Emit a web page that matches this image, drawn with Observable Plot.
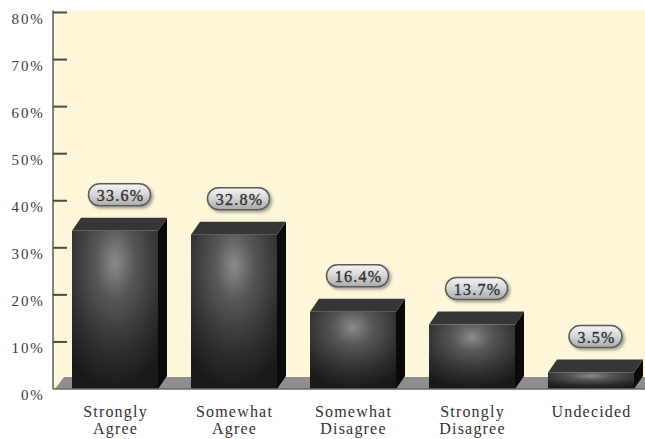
<!DOCTYPE html>
<html>
<head>
<meta charset="utf-8">
<script src="https://cdn.jsdelivr.net/npm/d3@7"></script>
<script src="https://cdn.jsdelivr.net/npm/@observablehq/plot@0.6"></script>
<style>
  html, body { margin: 0; padding: 0; background: #ffffff; }
  #chart { width: 645px; height: 439px; }
  svg { display: block; }
  svg text { letter-spacing: 1.2px; }
  svg g[aria-label="y-axis tick label"] text { letter-spacing: 1.8px; }
</style>
</head>
<body>
<div id="chart"></div>
<script>
const categories = ["Strongly Agree", "Somewhat Agree", "Somewhat Disagree", "Strongly Disagree", "Undecided"];
const values = [33.6, 32.8, 16.4, 13.7, 3.5];
const valueLabels = ["33.6%", "32.8%", "16.4%", "13.7%", "3.5%"];
const yTicks = [0, 10, 20, 30, 40, 50, 60, 70, 80];

const data = categories.map((c, i) => ({category: c, value: values[i], label: valueLabels[i]}));

const DX = 9, DY = 13;       // 3-D depth offsets (px)
const FLOOR = 12;            // floor depth (px)
const serif = "'Liberation Serif', 'DejaVu Serif', serif";

function bandwidthOf(x) {
  if (typeof x.bandwidth === "function") return x.bandwidth();
  if (typeof x.bandwidth === "number") return x.bandwidth;
  return 86;
}

function defs() {
  const svg = d3.create("svg:g");
  const d = svg.append("defs");
  const rg = d.append("radialGradient").attr("id", "barGrad")
    .attr("cx", "0.5").attr("cy", "0.2").attr("r", "0.8")
    .attr("fx", "0.5").attr("fy", "0.2");
  rg.append("stop").attr("offset", "0").attr("stop-color", "#8a8a8a");
  rg.append("stop").attr("offset", "0.3").attr("stop-color", "#555555");
  rg.append("stop").attr("offset", "0.75").attr("stop-color", "#2a2a2a");
  rg.append("stop").attr("offset", "1").attr("stop-color", "#1a1a1a");
  const pg = d.append("linearGradient").attr("id", "pillGrad")
    .attr("x1", "0").attr("y1", "0").attr("x2", "0").attr("y2", "1");
  pg.append("stop").attr("offset", "0").attr("stop-color", "#f6f6f6");
  pg.append("stop").attr("offset", "0.5").attr("stop-color", "#d4d4d4");
  pg.append("stop").attr("offset", "1").attr("stop-color", "#a8a8a8");
  const f = d.append("filter").attr("id", "pillShadow").attr("x", "-20%").attr("y", "-30%").attr("width", "150%").attr("height", "180%");
  f.append("feDropShadow").attr("dx", "2").attr("dy", "2").attr("stdDeviation", "1.5").attr("flood-color", "#000").attr("flood-opacity", "0.35");
  return svg.node();
}

// background + floor, from scales
function frame(index, scales, values, dim) {
  const g = d3.create("svg:g");
  const y = scales.y;
  const x0 = dim.marginLeft, x1 = dim.width - dim.marginRight;
  const yb = y(0), yt = y(80) - 2;
  g.append("rect").attr("x", x0).attr("y", yt).attr("width", x1 - x0).attr("height", yb - yt).attr("fill", "#fdf6d9");
  g.append("path")
    .attr("d", `M${x0 + 2},${yb} L${x0 + 2 + DX},${yb - FLOOR} L${x1},${yb - FLOOR} L${x1},${yb} Z`)
    .attr("fill", "#8e8e8e");
  return g.node();
}

// axis line, baseline and inward tick marks
function axisFrame(index, scales, values, dim) {
  const g = d3.create("svg:g");
  const y = scales.y;
  const x0 = dim.marginLeft, x1 = dim.width - dim.marginRight;
  const yb = y(0), yt = y(80) - 2;
  g.append("line").attr("x1", x0).attr("x2", x1).attr("y1", yb).attr("y2", yb).attr("stroke", "#6a6a6a").attr("stroke-width", 1.3);
  g.append("line").attr("x1", x0).attr("x2", x0).attr("y1", yt).attr("y2", yb).attr("stroke", "#5a5a5a").attr("stroke-width", 1.5);
  for (const t of yTicks) {
    if (t === 0) continue;
    g.append("line").attr("x1", x0).attr("x2", x0 + 14).attr("y1", y(t)).attr("y2", y(t))
      .attr("stroke", "#4a4a4a").attr("stroke-width", 2);
  }
  return g.node();
}

function bars3d(index, scales, values, dim) {
  const g = d3.create("svg:g");
  const x = scales.x, y = scales.y;
  const bw = bandwidthOf(x);
  const yb = y(0);
  for (const d of data) {
    const xa = x(d.category), xb = xa + bw, yv = y(d.value);
    g.append("path")
      .attr("d", `M${xb},${yv} L${xb + DX},${yv - DY} L${xb + DX},${yb - DY} L${xb},${yb} Z`)
      .attr("fill", "#0a0a0a");
    g.append("path")
      .attr("d", `M${xa},${yv} L${xa + DX},${yv - DY} L${xb + DX},${yv - DY} L${xb},${yv} Z`)
      .attr("fill", "#363636");
    g.append("rect").attr("x", xa).attr("y", yv).attr("width", bw).attr("height", yb - yv)
      .attr("fill", "url(#barGrad)");
  }
  return g.node();
}

function pills(index, scales, values, dim) {
  const g = d3.create("svg:g");
  const x = scales.x, y = scales.y;
  const bw = bandwidthOf(x);
  for (const d of data) {
    const cx = x(d.category) + bw / 2 + DX / 2;
    const cy = y(d.value) - 36;
    const w = d.label.length > 4 ? 62 : 53, h = 22;
    g.append("rect").attr("x", cx - w / 2).attr("y", cy - h / 2).attr("width", w).attr("height", h)
      .attr("rx", h / 2).attr("ry", h / 2)
      .attr("fill", "url(#pillGrad)").attr("stroke", "#5a5a5a").attr("stroke-width", 1.5)
      .attr("filter", "url(#pillShadow)");
  }
  return g.node();
}

const chart = Plot.plot({
  width: 645,
  height: 439,
  marginLeft: 53,
  marginRight: 0,
  marginTop: 12,
  marginBottom: 50,
  style: {background: "#ffffff", fontFamily: serif},
  x: {type: "band", domain: categories, range: [39, 667], padding: 0.2773, label: null},
  y: {domain: [0, 80], range: [389, 12.5], label: null},
  marks: [
    defs,
    frame,
    bars3d,
    pills,
    Plot.text(data, {
      x: "category", y: "value", text: "label",
      dx: 5, dy: -35,
      fontFamily: serif, fontSize: 16, fill: "#333",
      stroke: "#333", strokeWidth: 0.4,
      textAnchor: "middle"
    }),
    Plot.axisY(yTicks, {
      tickFormat: d => d + "%", tickSize: 0, tickPadding: 9, dy: 6,
      fontFamily: serif, fontSize: 15, fill: "#3a3a3a", label: null
    }),
    Plot.axisX({
      tickSize: 0, tickPadding: 15, fontFamily: serif, fontSize: 16, fill: "#333",
      tickFormat: d => d.replace(" ", "\n"), label: null, lineHeight: 1.08
    }),
    axisFrame
  ]
});

document.getElementById("chart").append(chart);
</script>
</body>
</html>
